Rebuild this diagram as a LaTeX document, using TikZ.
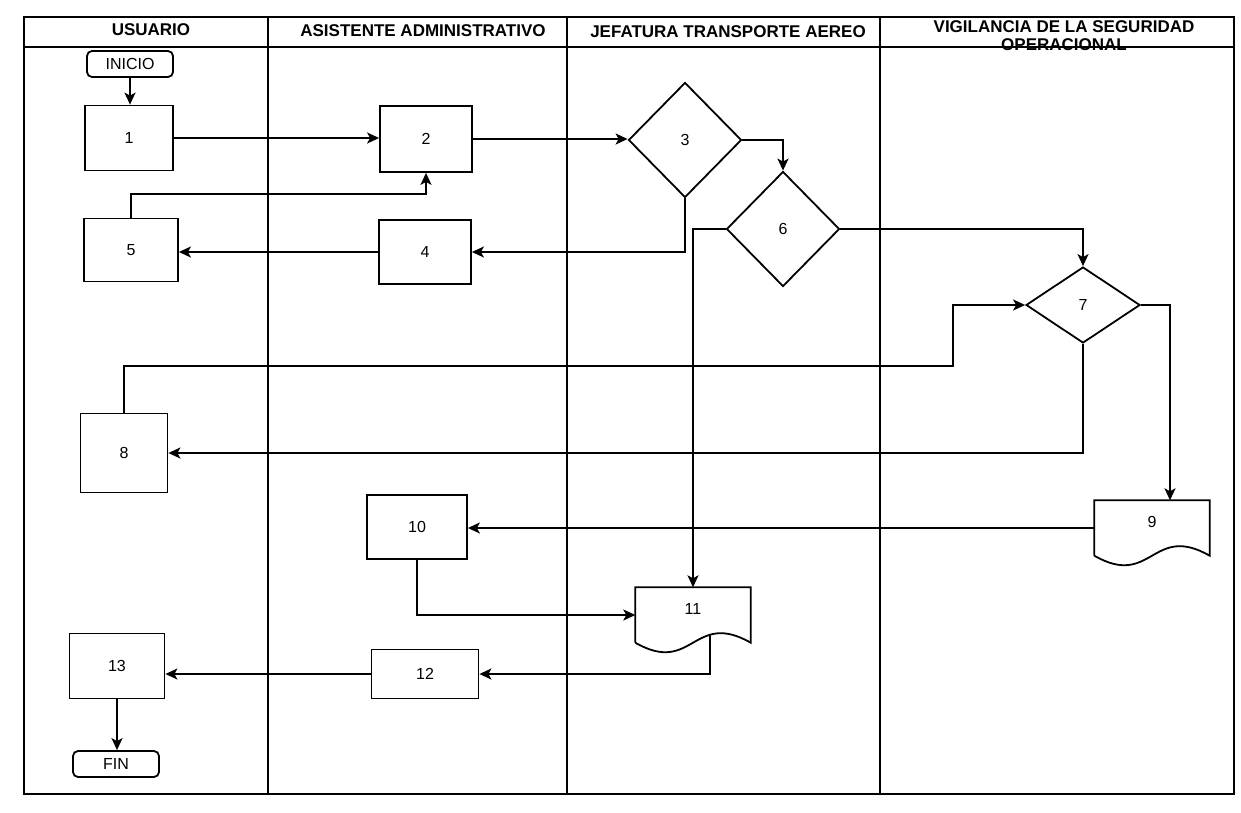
\documentclass[tikz,border=0pt]{standalone}
\usepackage{fontspec}
\setmainfont{Liberation Sans}
\usetikzlibrary{shapes.geometric,arrows.meta,calc}

% document symbol: straight top and sides, wavy bottom
\newcommand{\docoutline}[1]{%
	\draw[boxline] (#1.south west) -- (#1.north west) -- (#1.north east)
		-- (#1.south east) .. controls ($(#1.south)+(0,-33)$) and ($(#1.south)+(0,33)$)
		.. (#1.south west) coordinate[pos=0.31] (#1out);}

\begin{document}
\begin{tikzpicture}[
		x=1pt, y=-1pt,
		font=\fontsize{16}{18}\selectfont,
		boxline/.style={line width=1.8pt,black},
		laneline/.style={line width=2pt,black},
		stepbox/.style={boxline,draw,rectangle,inner sep=0pt,minimum width=92pt,minimum height=64pt},
		term/.style={stepbox,rounded corners=5pt,minimum width=86pt,minimum height=26pt},
		decision/.style={boxline,draw,diamond,inner sep=0pt,minimum width=113pt,minimum height=115pt},
		docbox/.style={inner sep=0pt,minimum width=115pt,minimum height=55pt},
		flow/.style={boxline,-{Stealth[length=12pt,width=11pt,inset=3pt]}},
		lanehead/.style={font=\bfseries\fontsize{17}{18}\selectfont,align=center},
	]
	\useasboundingbox (0,0) rectangle (1241,812);

	% ---------- lanes ----------
	\node[lanehead] (hUsu) at (151,30) {USUARIO};
	\node[lanehead] (hAsi) at (423,31) {ASISTENTE ADMINISTRATIVO};
	\node[lanehead] (hJef) at (728,32) {JEFATURA TRANSPORTE AEREO};
	\node[lanehead] (hVig) at (1064,36) {VIGILANCIA DE LA SEGURIDAD\\OPERACIONAL};
	\draw[laneline] (24,17) rectangle (1234,794);
	\draw[laneline] (24,47) -- (1234,47);
	\foreach \x in {268,567,880}
		\draw[laneline] (\x,17) -- (\x,794);

	% ---------- steps ----------
	\node[term] (inicio) at (130,64) {INICIO};
	\node[stepbox,minimum width=88pt,minimum height=65pt] (b1) at (129,138) {1};
	\node[stepbox,minimum height=66pt] (b2) at (426,139) {2};
	\node[decision] (d3) at (685,140) {3};
	\node[stepbox] (b4) at (425,252) {4};
	\node[stepbox,minimum width=94pt,minimum height=63pt] (b5) at (131,250) {5};
	\node[decision] (d6) at (783,229) {6};
	\node[decision,minimum width=114pt,minimum height=76pt] (d7) at (1083,305) {7};
	\node[stepbox,minimum width=87pt,minimum height=79pt] (b8) at (124,453) {8};
	\node[docbox,label={[yshift=6pt]center:9}] (d9) at (1152,528) {};
	\node[stepbox,minimum width=100pt] (b10) at (417,527) {10};
	\node[docbox,label={[yshift=6pt]center:11}] (d11) at (693,615) {};
	\node[stepbox,minimum width=107pt,minimum height=49pt] (b12) at (425,674) {12};
	\node[stepbox,minimum width=95pt,minimum height=65pt] (b13) at (117,666) {13};
	\node[term] (fin) at (116,764) {FIN};
	\docoutline{d9}
	\docoutline{d11}

	% ---------- flow ----------
	\draw[flow] (inicio.south) -- (inicio.south |- b1.north);
	\draw[flow] (b1.east) -- (b1.east -| b2.west);
	\draw[flow] (b2.east) -- (b2.east -| d3.west);
	\draw[flow] (d3.east) -| (d6.north);
	\draw[flow] (d3.south) |- (b4.east);
	\draw[flow] (b4.west) -- (b4.west -| b5.east);
	\draw[flow] (b5.north) -- ++(0,-24) -| (b2.south);
	\draw[flow] (d6.west) -| (d11.north);
	\draw[flow] (d6.east) -| (d7.north);
	\coordinate (j87) at (953,366);
	\draw[flow] (b8.north) |- (j87) |- (d7.west);
	\draw[flow] (d7.south) |- (b8.east);
	\draw[flow] (d7.east) -| ([xshift=18pt]d9.north);
	\draw[flow] (d9.west) -- (d9.west -| b10.east);
	\draw[flow] (b10.south) |- (d11.west);
	\draw[flow] (d11out) |- (b12.east);
	\draw[flow] (b12.west) -- (b12.west -| b13.east);
	\draw[flow] (b13.south) -- (b13.south |- fin.north);

\end{tikzpicture}
\end{document}
